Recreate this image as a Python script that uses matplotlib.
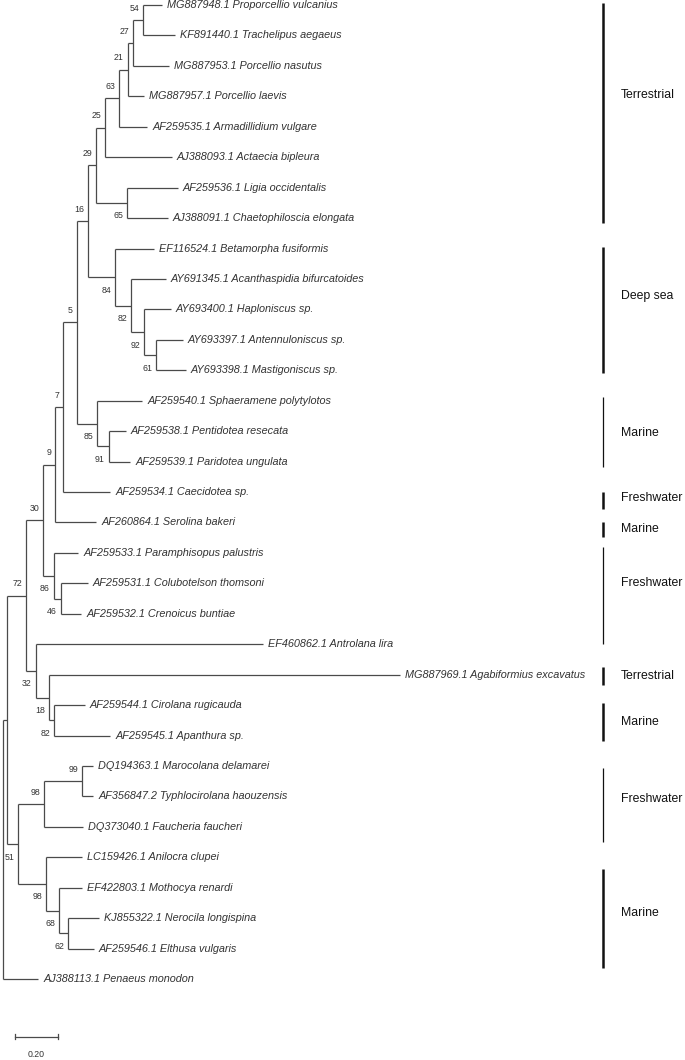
import matplotlib.pyplot as plt

# leaves, top to bottom, with tip depth (substitutions/site from root)
leaf_names = [
    "MG887948.1 Proporcellio vulcanius", "KF891440.1 Trachelipus aegaeus",
    "MG887953.1 Porcellio nasutus", "MG887957.1 Porcellio laevis",
    "AF259535.1 Armadillidium vulgare", "AJ388093.1 Actaecia bipleura",
    "AF259536.1 Ligia occidentalis", "AJ388091.1 Chaetophiloscia elongata",
    "EF116524.1 Betamorpha fusiformis", "AY691345.1 Acanthaspidia bifurcatoides",
    "AY693400.1 Haploniscus sp.", "AY693397.1 Antennuloniscus sp.",
    "AY693398.1 Mastigoniscus sp.", "AF259540.1 Sphaeramene polytylotos",
    "AF259538.1 Pentidotea resecata", "AF259539.1 Paridotea ungulata",
    "AF259534.1 Caecidotea sp.", "AF260864.1 Serolina bakeri",
    "AF259533.1 Paramphisopus palustris", "AF259531.1 Colubotelson thomsoni",
    "AF259532.1 Crenoicus buntiae", "EF460862.1 Antrolana lira",
    "MG887969.1 Agabiformius excavatus", "AF259544.1 Cirolana rugicauda",
    "AF259545.1 Apanthura sp.", "DQ194363.1 Marocolana delamarei",
    "AF356847.2 Typhlocirolana haouzensis", "DQ373040.1 Faucheria faucheri",
    "LC159426.1 Anilocra clupei", "EF422803.1 Mothocya renardi",
    "KJ855322.1 Nerocila longispina", "AF259546.1 Elthusa vulgaris",
    "AJ388113.1 Penaeus monodon",
]
leaf_depth = [0.740, 0.800, 0.772, 0.656, 0.670, 0.786, 0.814, 0.767,
              0.702, 0.758, 0.781, 0.837, 0.851, 0.647, 0.572, 0.591,
              0.498, 0.433, 0.349, 0.395, 0.363, 1.209, 1.847, 0.381,
              0.498, 0.419, 0.419, 0.372, 0.367, 0.367, 0.447, 0.423,
              0.163]

# internal nodes (children listed before parents)
node_ids = ["A", "B", "C", "D", "E", "F", "G", "H", "I", "J", "K", "L", "M",
            "N", "O", "P", "Q", "R", "S", "T", "U", "V", "W", "X", "Y", "Z",
            "AA", "AB", "AC", "AD", "AE", "root"]
node_kids = [(0, 1), ("A", 2), ("B", 3), ("C", 4), ("D", 5), (6, 7),
             ("E", "F"), (11, 12), (10, "H"), (9, "I"), (8, "J"), ("G", "K"),
             (14, 15), (13, "M"), ("L", "N"), ("O", 16), ("P", 17), (19, 20),
             (18, "R"), ("Q", "S"), (23, 24), (22, "U"), (21, "V"), ("T", "W"),
             (25, 26), ("Y", 27), (30, 31), (29, "AA"), (28, "AB"), ("Z", "AC"),
             ("X", "AD"), ("AE", 32)]
node_depth = [0.651, 0.605, 0.581, 0.540, 0.474, 0.577, 0.433, 0.712, 0.656,
              0.595, 0.521, 0.395, 0.493, 0.437, 0.344, 0.279, 0.242, 0.270,
              0.237, 0.186, 0.237, 0.214, 0.153, 0.107, 0.367, 0.191, 0.302,
              0.260, 0.200, 0.070, 0.019, 0.0]
node_support = [54, 27, 21, 63, 25, 65, 29, 61, 92, 82, 84, 16, 91, 85, 5, 7,
                9, 46, 86, 30, 82, 18, 32, 72, 99, 98, 62, 68, 98, 51, None, None]

# habitat bars on the right (in leaf rows)
habitat = ["Terrestrial", "Deep sea", "Marine", "Freshwater", "Marine",
           "Freshwater", "Terrestrial", "Marine", "Freshwater", "Marine"]
bar_top = [-0.07, 7.95, 12.88, 16.0, 16.98, 17.8, 21.75, 22.93, 25.07, 28.38]
bar_bot = [7.16, 12.09, 15.18, 16.56, 17.48, 21.0, 22.34, 24.18, 27.5, 31.64]
label_row = [2.96, 9.56, 14.06, 16.2, 17.2, 19.0, 22.04, 23.55, 26.1, 29.83]
bar_lw = [1.8, 1.8, 0.9, 1.8, 1.8, 0.9, 1.8, 1.8, 0.9, 1.8]

scale_len = 0.20

# pixel scale of the layout
PX_X = 215.0   # px per unit branch length
PX_Y = 30.44   # px per leaf row
W, H = 685, 1060
dx = 1 / PX_X
dy = 1 / PX_Y

fig = plt.figure(figsize=(W / 100, H / 100), dpi=100)
ax = fig.add_axes([0, 0, 1, 1])
ax.set_xlim(-3 * dx, (W - 3) * dx)
ax.set_ylim((H - 5) * dy, -5 * dy)
ax.axis("off")

line_col = "#4a4a4a"
lw = 0.9

pos = {}
for i, d in enumerate(leaf_depth):
    pos[i] = (d, float(i))

parent_slot = {}
for nid, kids in zip(node_ids, node_kids):
    for k, c in enumerate(kids):
        parent_slot[c] = k

for nid, kids, d, sup in zip(node_ids, node_kids, node_depth, node_support):
    ys = [pos[c][1] for c in kids]
    ax.plot([d, d], [min(ys), max(ys)], color=line_col, lw=lw,
            solid_capstyle="butt")
    for c in kids:
        cx, cy = pos[c]
        ax.plot([d, cx], [cy, cy], color=line_col, lw=lw, solid_capstyle="butt")
    y = sum(ys) / 2
    pos[nid] = (d, y)
    if sup is not None:
        off = -12 if parent_slot.get(nid, 0) == 0 else 13
        ax.text(d - 4 * dx, y + off * dy, str(sup), ha="right", va="center",
                fontsize=6.3, color="#333333", family="Liberation Sans")

for i, name in enumerate(leaf_names):
    ax.text(leaf_depth[i] + 5 * dx, i, name, ha="left", va="center",
            fontsize=7.8, style="italic", color="#333333",
            family="Liberation Sans")

bar_x = 600 * dx
for lab, t, b, r, w in zip(habitat, bar_top, bar_bot, label_row, bar_lw):
    ax.plot([bar_x, bar_x], [t, b], color="#111111", lw=w,
            solid_capstyle="butt")
    ax.text(bar_x + 18 * dx, r, lab, ha="left", va="center", fontsize=8.8,
            color="#111111", family="Liberation Sans")

# scale bar
sx0 = 12 * dx
sy = (1037 - 5) * dy
ax.plot([sx0, sx0 + scale_len], [sy, sy], color=line_col, lw=0.9)
for xx in (sx0, sx0 + scale_len):
    ax.plot([xx, xx], [sy - 2.5 * dy, sy + 2.5 * dy], color=line_col, lw=0.9)
ax.text(sx0 + scale_len / 2, sy + 18 * dy, "%.2f" % scale_len, ha="center",
        va="center", fontsize=6.3, color="#333333", family="Liberation Sans")

fig.savefig("out.png", dpi=100, facecolor="white")
